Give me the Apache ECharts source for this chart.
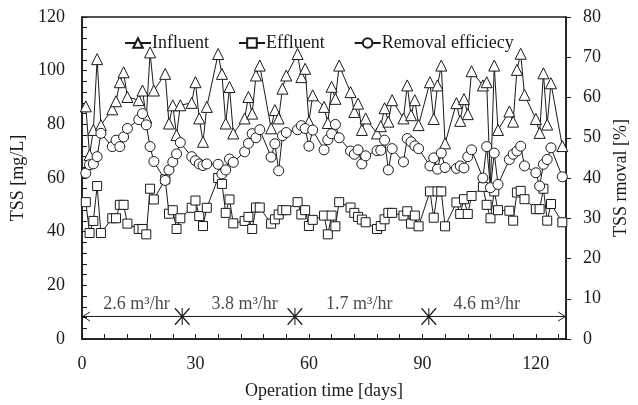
<!DOCTYPE html>
<html><head><meta charset="utf-8">
<script src="https://cdn.jsdelivr.net/npm/echarts@6/dist/echarts.min.js"></script>
<style>html,body{margin:0;padding:0;background:#fff}#c{width:638px;height:405px}</style>
</head><body><div id="c"></div>
<script>
// ---- data ----
const days = [1,2,3,4,5, 8,9,10,11,12, 15,16,17,18,19, 22,23,24,25,26, 29,30,31,32,33,
  36,37,38,39,40, 43,44,45,46,47, 50,51,52,53,54, 57,58,59,60,61, 64,65,66,67,68,
  71,72,73,74,75, 78,79,80,81,82, 85,86,87,88,89, 92,93,94,95,96, 99,100,101,102,103,
  106,107,108,109,110, 113,114,115,116,117, 120,121,122,123,124, 127];
const influent = [86.7,68.6,77.9,104.3,79.7, 85.6,88.6,95.7,99.4,90.2, 89,92.6,82.5,106.8,92.6,
  98.8,80.3,87.1,76,87.1, 88,95.7,82.2,73.5,86.5, 106.2,98.8,80.3,93.9,76.6,
  82.2,90.2,84,98.2,101.9, 78.5,85.3,82.2,93.3,98.2, 106.2,97.6,100.7,81,90.8,
  86.5,80.5,94,89.5,101.9, 92,84.6,87.7,77.9,82.2, 76.6,79.3,86,81,89,
  82.2,94.5,83.4,89,79.7, 95.7,82,94.5,101.9,72.9, 87.9,81.3,89.4,83.8,99.8,
  94.5,95.7,57,101.9,77.9, 84.8,81,100.3,106.3,91, 82,76.8,99,79.9,95.3, 71.9];
const effluent = [51,39.5,44,57,39.5, 45,45,50,50,43, 41,41,39,56,52,
  59.5,46.7,48,41,45, 48.9,51.6,45.8,42.1,48.9, 60,57.8,47,52,43.1,
  44,45.5,41,49,49, 43,44.6,46.4,48,48, 51,46.4,48,42.1,44.4,
  46,39,46,42,51, 49,47,45.5,44.5,43.5, 41,42.1,44.6,47,47,
  46,47.6,43,46,42, 55,45.2,55,55,42, 50.9,46.6,52.1,46.6,53.3,
  56.7,50,45,55,48, 47.8,44.1,54.6,55.2,52.1, 48.4,48.4,56,44.1,50.3, 43.5];
const removal = [41.2,43.3,43.5,45.3,51.1, 47.8,49.4,47.8,50.2,52.3, 54.5,56,53.2,47.8,44.1,
  39.4,42,44,46,48.8, 45.3,44.3,43.5,43.1,43.5, 43.4,41,42,44.7,43.9,
  46.5,48.6,51,50,52, 45.2,48.5,41.8,50.5,51.3, 52,53,52.3,47.9,51.9,
  47,49.5,51,53.3,50, 46.7,45.9,47,43.5,45.5, 46.8,46.9,49.4,42,47.3,
  44,49.8,49,48,47.3, 43,45,42.2,46.2,42.6, 42.4,43,42.5,45.3,47,
  40,47.8,37.6,46.2,38.4, 44.6,45.9,46.7,47.9,43, 41.3,38,43.4,44.6,47.5, 40.3];
const seriesNames = ['Influent','Effluent','Removal efficiecy'];
const xLabelTicks = [0,30,60,90,120];
const yLeftLabelTicks = [0,20,40,60,80,100,120];
const phaseBounds = [0,26.5,56.3,91.7,128];
const phaseLabels = ['2.6 m³/hr','3.8 m³/hr','1.7 m³/hr','4.6 m³/hr'];
const phaseLabelX = [14.4,43,73.3,107];
const phaseLineLevel = 8.4;
const phaseLabelLevel = 13;

// ---- chart ----
const FONT = "'Liberation Serif','Times New Roman',serif";
const INK = '#1a1a1a';
const pair = arr => days.map((d,i)=>[d,arr[i]]);

const chevronLeft = 'path://M0 50 L100 0 L100 10 L18 50 L100 90 L100 100 Z';
const chevronRight = 'path://M100 50 L0 100 L0 90 L82 50 L0 10 L0 0 Z';
const star = 'path://M46.5 0 L53.5 0 L53.5 100 L46.5 100 Z M0 0 L6 0 L100 94 L100 100 L94 100 L0 6 Z M94 0 L100 0 L100 6 L6 100 L0 100 L0 94 Z';

const phaseData = phaseBounds.map((x,i)=>{
  const last = phaseBounds.length-1;
  if (i===0) return {value:[x,phaseLineLevel], symbol:chevronLeft, symbolSize:[8,10], symbolOffset:[4,0]};
  if (i===last) return {value:[x,phaseLineLevel], symbol:chevronRight, symbolSize:[8,10], symbolOffset:[-4,0]};
  return {value:[x,phaseLineLevel], symbol:star, symbolSize:[15,17]};
});

const markStyle = (sym,size)=>({
  type:'line', symbol:sym, symbolSize:size, showAllSymbol:true, connectNulls:true,
  lineStyle:{color:INK,width:1}, itemStyle:{color:'#fff',borderColor:INK,borderWidth:1},
  emphasis:{disabled:true}, animation:false
});

const chart = echarts.init(document.getElementById('c'), null, {renderer:'canvas'});
chart.setOption({
  backgroundColor:'#fff',
  animation:false,
  textStyle:{fontFamily:FONT,color:INK},
  grid:{left:82,right:70,top:17,bottom:64,show:true,borderColor:INK,borderWidth:1.5,backgroundColor:'transparent'},
  legend:{
    data:seriesNames, left:119, top:29, itemWidth:26, itemHeight:12, itemGap:29,
    textStyle:{fontFamily:FONT,fontSize:18,color:INK,padding:[0,0,0,-4]}
  },
  xAxis:{
    type:'value', min:0, max:128, interval:6,
    name:'Operation time [days]', nameLocation:'middle', nameGap:43,
    nameTextStyle:{fontFamily:FONT,fontSize:18,color:INK},
    axisLine:{show:true,lineStyle:{color:INK,width:1.5}},
    axisTick:{show:true,inside:true,length:5,lineStyle:{color:INK,width:1}},
    axisLabel:{margin:16,fontFamily:FONT,fontSize:18,color:INK,
      formatter:v=>xLabelTicks.includes(v)?String(v):''},
    splitLine:{show:false}
  },
  yAxis:[{
    type:'value', min:0, max:120, interval:4, position:'left',
    name:'TSS [mg/L]', nameLocation:'middle', nameRotate:90, nameGap:44,
    nameTextStyle:{fontFamily:FONT,fontSize:18,color:INK},
    axisLine:{show:true,lineStyle:{color:INK,width:1.5}},
    axisTick:{show:true,inside:true,length:5,lineStyle:{color:INK,width:1}},
    axisLabel:{margin:17,fontFamily:FONT,fontSize:18,color:INK,
      formatter:v=>yLeftLabelTicks.includes(v)?String(v):''},
    splitLine:{show:false}
  },{
    type:'value', min:0, max:80, interval:10, position:'right',
    name:'TSS rmoval [%]', nameLocation:'middle', nameRotate:90, nameGap:44,
    nameTextStyle:{fontFamily:FONT,fontSize:18,color:INK},
    axisLine:{show:true,lineStyle:{color:INK,width:1.5}},
    axisTick:{show:true,inside:false,length:5,lineStyle:{color:INK,width:1}},
    axisLabel:{margin:17,fontFamily:FONT,fontSize:18,color:INK},
    splitLine:{show:false}
  }],
  series:[
    Object.assign(markStyle('triangle',11),{name:seriesNames[0],yAxisIndex:0,data:pair(influent)}),
    Object.assign(markStyle('rect',9),{name:seriesNames[1],yAxisIndex:0,data:pair(effluent)}),
    Object.assign(markStyle('circle',10),{name:seriesNames[2],yAxisIndex:1,data:pair(removal)}),
    {
      type:'line', name:'phases', yAxisIndex:0, data:phaseData, silent:true, animation:false,
      lineStyle:{color:INK,width:1}, itemStyle:{color:INK,borderWidth:0}, showAllSymbol:true
    },
    {
      type:'scatter', name:'phaseLabels', yAxisIndex:0, silent:true, animation:false,
      symbolSize:0,
      data:phaseLabels.map((t,i)=>({name:t,value:[phaseLabelX[i],phaseLabelLevel]})),
      label:{show:true,position:'inside',formatter:'{b}',fontFamily:FONT,fontSize:18,color:INK}
    }
  ]
});
</script></body></html>
